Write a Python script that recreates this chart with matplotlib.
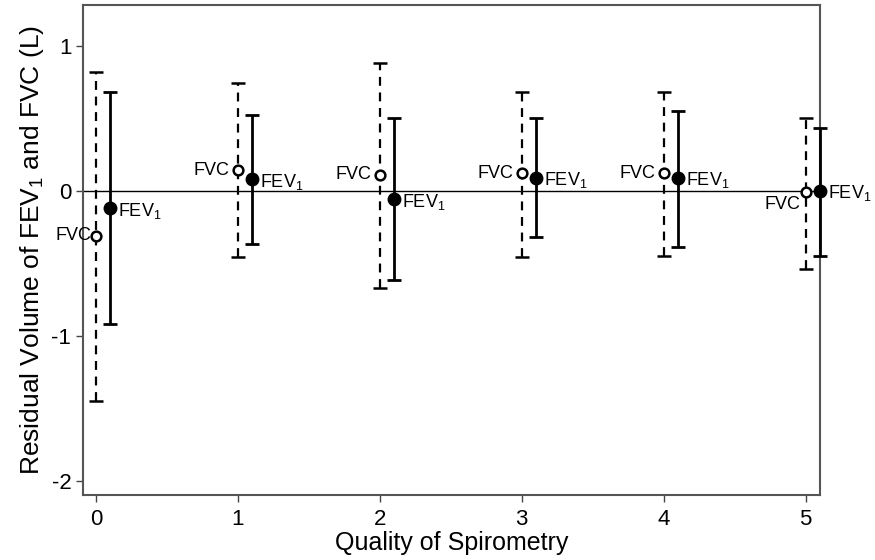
import matplotlib.pyplot as plt
import numpy as np

plt.rcParams['font.family'] = ['Liberation Sans', 'DejaVu Sans']
plt.rcParams['mathtext.default'] = 'regular'
plt.rcParams['axes.unicode_minus'] = False

# Quality of spirometry grades
quality = np.array([0, 1, 2, 3, 4, 5])

# FVC residuals: mean and interval limits (L)
fvc_mean = np.array([-0.31, 0.14, 0.11, 0.12, 0.12, -0.01])
fvc_upper = np.array([0.82, 0.74, 0.88, 0.68, 0.68, 0.50])
fvc_lower = np.array([-1.45, -0.46, -0.67, -0.46, -0.45, -0.54])

# FEV1 residuals: mean and interval limits (L)
fev_mean = np.array([-0.12, 0.08, -0.06, 0.09, 0.09, 0.0])
fev_upper = np.array([0.68, 0.52, 0.50, 0.50, 0.55, 0.43])
fev_lower = np.array([-0.92, -0.37, -0.62, -0.32, -0.39, -0.45])

offset = 0.1  # FEV1 drawn a bit to the right

fig = plt.figure(figsize=(8.75, 5.6), dpi=100)
ax = fig.add_axes([0.095, 0.116, 0.842, 0.875])

ax.axhline(0, color='black', lw=1.0, zorder=1)

# FVC: dashed error bars, open circles
eb = ax.errorbar(quality, fvc_mean,
                 yerr=[fvc_mean - fvc_lower, fvc_upper - fvc_mean],
                 fmt='o', color='black', mfc='white', mec='black', ms=7, mew=1.8,
                 elinewidth=1.6, capsize=5, capthick=1.6, zorder=3)
eb[2][0].set_linestyle((0, (4, 3)))

# FEV1: solid error bars, filled circles
eb2 = ax.errorbar(quality + offset, fev_mean,
                  yerr=[fev_mean - fev_lower, fev_upper - fev_mean],
                  fmt='o', color='black', ms=9, elinewidth=2.0,
                  capsize=5, capthick=2.0, zorder=3)
for art in [eb2[0], *eb2[1], *eb2[2]]:
    art.set_clip_on(False)

# point labels
for i, q in enumerate(quality):
    if i == len(quality) - 1:
        ax.annotate('FVC', (q, fvc_mean[i]), xytext=(-4, -3), textcoords='offset points',
                    ha='right', va='top', fontsize=13)
    elif i == 0:
        ax.annotate('FVC', (q, fvc_mean[i]), xytext=(-3, 0), textcoords='offset points',
                    ha='right', va='center', fontsize=13)
    else:
        ax.annotate('FVC', (q, fvc_mean[i]), xytext=(-6, 0), textcoords='offset points',
                    ha='right', va='center', fontsize=13)
    ax.annotate('FEV$_1$', (q + offset, fev_mean[i]), xytext=(6, -2),
                textcoords='offset points', ha='left', va='center', fontsize=13)

ax.set_xlim(-0.09, 5.1)
ax.set_ylim(-2.1, 1.28)
ax.set_xticks(quality)
ax.set_yticks([1, 0, -1, -2])
ax.set_yticklabels(['1', '0', '-1', '-2'])
ax.tick_params(direction='out', length=5, width=1, labelsize=16, colors='#444444',
               labelcolor='black')
ax.tick_params(axis='x', pad=5)

for s in ax.spines.values():
    s.set_color('#555555')
    s.set_linewidth(1.5)

ax.set_xlabel('Quality of Spirometry', fontsize=18, labelpad=1)
ax.set_ylabel('Residual Volume of FEV$_1$ and FVC (L)', fontsize=19, labelpad=4)

fig.savefig('out.png', dpi=100)
